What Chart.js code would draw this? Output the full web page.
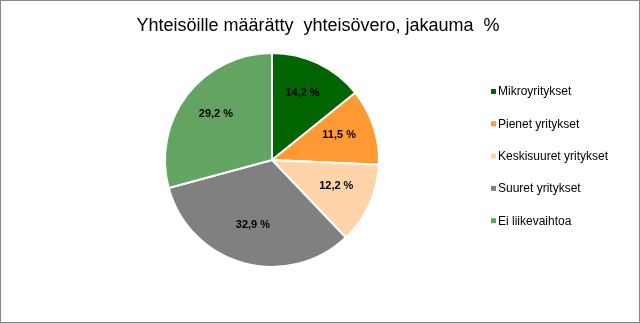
<!DOCTYPE html>
<html>
<head>
<meta charset="utf-8">
<script src="https://cdn.jsdelivr.net/npm/chart.js@4"></script>
<style>
  body { margin: 0; background: #fff; }
  #wrap { width: 640px; height: 323px; box-sizing: border-box; border: 1px solid #868686; }
  canvas { display: block; }
</style>
</head>
<body>
<div id="wrap"><canvas id="myChart" width="638" height="321"></canvas></div>
<script>
// data
var chartTitle = 'Yhteisöille määrätty  yhteisövero, jakauma  %';
var categories = ['Mikroyritykset', 'Pienet yritykset', 'Keskisuuret yritykset', 'Suuret yritykset', 'Ei liikevaihtoa'];
var shares = [14.2, 11.5, 12.2, 32.9, 29.2];
var colors = ['#006400', '#FF9933', '#FFD4A8', '#808080', '#63A463'];

// title, legend and value labels drawn on top of the pie
var extras = {
  id: 'extras',
  afterDatasetsDraw: function(chart) {
    var ctx = chart.ctx;
    ctx.save();
    // title
    ctx.fillStyle = '#000';
    ctx.font = '18px "Liberation Sans", Arial, sans-serif';
    ctx.textAlign = 'center';
    ctx.textBaseline = 'middle';
    ctx.fillText(chartTitle, 317, 25);

    // value labels
    var meta = chart.getDatasetMeta(0);
    ctx.font = 'bold 11px "Liberation Sans", Arial, sans-serif';
    meta.data.forEach(function(arc, i) {
      var p = arc.getProps(['x', 'y', 'startAngle', 'endAngle', 'outerRadius']);
      var mid = (p.startAngle + p.endAngle) / 2;
      var r = p.outerRadius * 0.66;
      var label = shares[i].toFixed(1).replace('.', ',') + ' %';
      ctx.fillText(label, p.x + Math.cos(mid) * r, p.y + Math.sin(mid) * r - 3);
    });

    // legend
    ctx.font = '12px "Liberation Sans", Arial, sans-serif';
    ctx.textAlign = 'left';
    categories.forEach(function(name, i) {
      var y = 91 + i * 32.3;
      ctx.fillStyle = colors[i];
      ctx.fillRect(490, y - 3, 5, 5);
      ctx.fillStyle = '#000';
      ctx.fillText(name, 497, y);
    });
    ctx.restore();
  }
};

var ctx = document.getElementById('myChart').getContext('2d');
var chart = new Chart(ctx, {
  type: 'pie',
  data: {
    labels: categories,
    datasets: [{
      data: shares,
      backgroundColor: colors,
      borderColor: '#ffffff',
      borderWidth: 2
    }]
  },
  options: {
    responsive: false,
    animation: false,
    layout: { padding: { left: 163, right: 259, top: 51, bottom: 54 } },
    plugins: {
      legend: { display: false },
      title: { display: false },
      tooltip: { enabled: false }
    }
  },
  plugins: [extras]
});
</script>
</body>
</html>
